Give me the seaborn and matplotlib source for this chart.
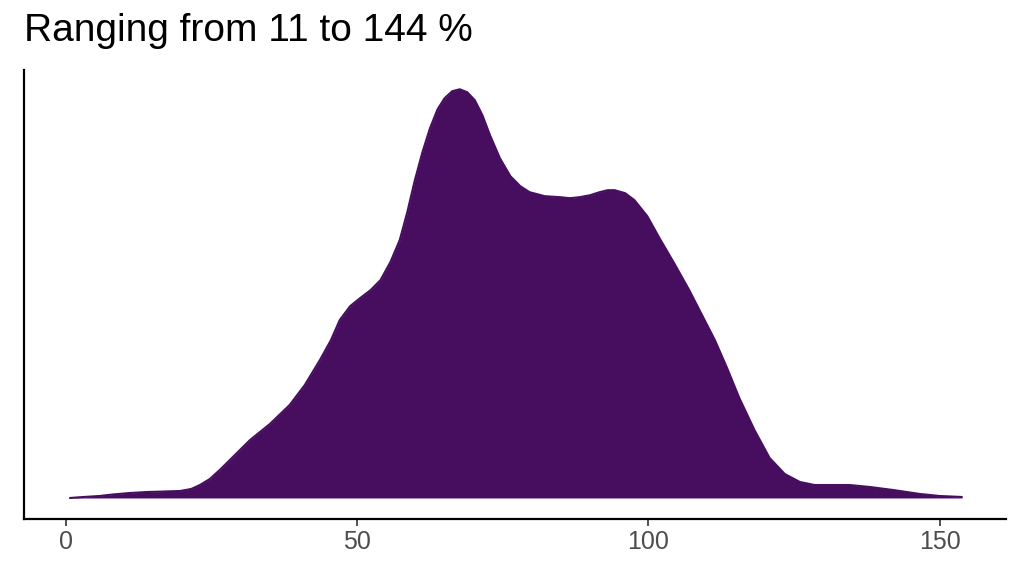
import numpy as np
import matplotlib.pyplot as plt
import seaborn as sns

# density curve (x in %, height in arbitrary units)
x_vals = [0.7, 3, 5.8, 8, 11, 14, 17, 19.6, 21.5, 23, 24.7, 26.4, 29, 31.6, 35, 38.4,
          41, 43.6, 45.5, 47, 48.8, 50.5, 52.3, 54, 55.7, 57.3, 58.6, 59.9,
          61.2, 62.5, 63.8, 65, 66.3, 67.6, 68.9, 70.2, 71.5, 72.8, 74.5, 76.3,
          78, 79.6, 82.2, 84.8, 86.5, 88.2, 90, 91.6, 93, 94.2, 96, 97.6,
          99.8, 101.9, 104.5, 107, 109.2, 111.4, 113.5, 115.6, 118.2, 120.8,
          123.4, 126, 128.5, 131, 134.5, 138, 142, 146.6, 150, 153.8]
heights = [0, 1, 2, 3.5, 5, 6, 6.5, 7, 9, 13, 19, 28, 43, 58, 74, 93,
           113, 138, 158, 178, 192, 200, 208, 218, 236, 258, 286, 318,
           346, 370, 389, 400, 407, 409, 406, 398, 383, 363, 340, 322,
           312, 306, 302, 301, 300, 301, 303, 306, 308, 308, 305, 298,
           282, 260, 234, 208, 183, 158, 130, 100, 68, 40,
           24, 16, 13, 13, 13, 11, 8, 4, 2, 1]
title = "Ranging from 11 to 144 %"

sns.set_style("white")
plt.rcParams['font.family'] = ['Liberation Sans', 'DejaVu Sans']

fig = plt.figure(figsize=(10.24, 5.76), dpi=100)
ax = fig.add_axes([0.0234, 0.099, 0.9586, 0.779])
fill_col = "#470E5F"
sns.lineplot(x=x_vals, y=heights, ax=ax, color=fill_col, linewidth=1.5)
ax.fill_between(x_vals, heights, 0, color=fill_col, linewidth=0)

ax.set_xlim(-7.2, 161.3)
ax.set_ylim(-21, 428)
ax.set_xticks([0, 50, 100, 150])
ax.set_yticks([])
ax.tick_params(axis='x', labelsize=18, labelcolor='#4d4d4d', length=5, width=1.2,
               color='#333333', bottom=True, pad=3)
ax.set_xlabel("")
ax.set_ylabel("")
for s in ['top', 'right']:
    ax.spines[s].set_visible(False)
for s in ['left', 'bottom']:
    ax.spines[s].set_linewidth(1.6)
    ax.spines[s].set_color('black')
fig.text(0.023, 0.915, title, fontsize=28, ha='left', va='bottom', color='black')

fig.savefig("out.png", dpi=100)
